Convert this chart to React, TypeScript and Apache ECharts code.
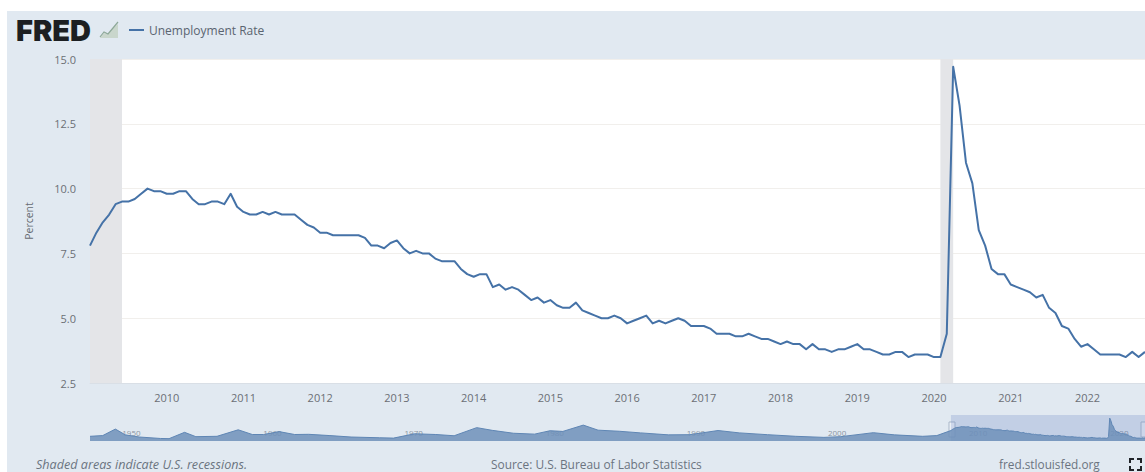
import React, { useEffect, useRef } from "react";
import * as echarts from "echarts";

// Monthly unemployment rate, percent, one list per calendar year from 2009.
const rate2009 = [7.8, 8.3, 8.7, 9.0, 9.4, 9.5, 9.5, 9.6, 9.8, 10.0, 9.9, 9.9];
const rate2010 = [9.8, 9.8, 9.9, 9.9, 9.6, 9.4, 9.4, 9.5, 9.5, 9.4, 9.8, 9.3];
const rate2011 = [9.1, 9.0, 9.0, 9.1, 9.0, 9.1, 9.0, 9.0, 9.0, 8.8, 8.6, 8.5];
const rate2012 = [8.3, 8.3, 8.2, 8.2, 8.2, 8.2, 8.2, 8.1, 7.8, 7.8, 7.7, 7.9];
const rate2013 = [8.0, 7.7, 7.5, 7.6, 7.5, 7.5, 7.3, 7.2, 7.2, 7.2, 6.9, 6.7];
const rate2014 = [6.6, 6.7, 6.7, 6.2, 6.3, 6.1, 6.2, 6.1, 5.9, 5.7, 5.8, 5.6];
const rate2015 = [5.7, 5.5, 5.4, 5.4, 5.6, 5.3, 5.2, 5.1, 5.0, 5.0, 5.1, 5.0];
const rate2016 = [4.8, 4.9, 5.0, 5.1, 4.8, 4.9, 4.8, 4.9, 5.0, 4.9, 4.7, 4.7];
const rate2017 = [4.7, 4.6, 4.4, 4.4, 4.4, 4.3, 4.3, 4.4, 4.3, 4.2, 4.2, 4.1];
const rate2018 = [4.0, 4.1, 4.0, 4.0, 3.8, 4.0, 3.8, 3.8, 3.7, 3.8, 3.8, 3.9];
const rate2019 = [4.0, 3.8, 3.8, 3.7, 3.6, 3.6, 3.7, 3.7, 3.5, 3.6, 3.6, 3.6];
const rate2020 = [3.5, 3.5, 4.4, 14.7, 13.2, 11.0, 10.2, 8.4, 7.8, 6.9, 6.7, 6.7];
const rate2021 = [6.3, 6.2, 6.1, 6.0, 5.8, 5.9, 5.4, 5.2, 4.7, 4.6, 4.2, 3.9];
const rate2022 = [4.0, 3.8, 3.6, 3.6, 3.6, 3.6, 3.5, 3.7, 3.5, 3.7];

const rateByYear = [
  rate2009, rate2010, rate2011, rate2012, rate2013, rate2014, rate2015,
  rate2016, rate2017, rate2018, rate2019, rate2020, rate2021, rate2022,
];

const firstYear = 2009;
const rateTicks = [2.5, 5, 7.5, 10, 12.5, 15];

// Long-run history behind the range selector: decimal year and rate.
const historyYears = [
  1948.0, 1948.9, 1949.8, 1950.5, 1951.5, 1953.0, 1953.6, 1954.7, 1955.5, 1957.0,
  1958.5, 1959.5, 1960.3, 1961.4, 1962.5, 1963.5, 1965.0, 1966.5, 1968.5, 1969.5,
  1971.0, 1972.5, 1973.8, 1975.4, 1976.5, 1978.0, 1979.5, 1980.6, 1981.5, 1982.95,
  1984.0, 1985.5, 1987.0, 1989.0, 1990.5, 1992.5, 1994.0, 1996.0, 1998.0, 2000.0,
  2001.2, 2003.5, 2005.0, 2007.0, 2008.0,
];
const historyRates = [
  4.6, 5.0, 8.6, 5.4, 4.2, 3.4, 3.3, 6.8, 4.4, 4.6,
  8.2, 5.6, 5.6, 7.2, 5.6, 5.7, 5.0, 4.2, 3.8, 3.6,
  6.0, 5.6, 4.9, 9.4, 7.9, 6.3, 5.8, 7.7, 7.3, 10.8,
  8.0, 7.4, 6.5, 5.4, 5.5, 7.8, 6.5, 5.5, 4.6, 4.0,
  4.4, 6.6, 5.4, 4.6, 5.0,
];
const decadeTicks = [1950, 1960, 1970, 1980, 1990, 2000, 2010, 2020];

const seriesName = "Unemployment Rate";
const lineColor = "#4572a7";

const monthlyPoints: [number, number][] = rateByYear.flatMap((values, i) =>
  values.map((v, m) => [firstYear + i + m / 12, v] as [number, number])
);
const historyPoints: [number, number][] = historyYears.map(
  (y, i) => [y, historyRates[i]] as [number, number]
);

const rangeStart = 2009;
const rangeEnd = 2022 + 9 / 12;

// Recession spans inside the visible range, in decimal years.
const recessionSpans = [
  [rangeStart, 2009 + 5 / 12],
  [2020 + 1 / 12, 2020 + 3 / 12],
];

const labelFont = "Open Sans";

export default function App() {
  const ref = useRef<HTMLDivElement>(null);

  useEffect(() => {
    if (!ref.current) return;
    const chart = echarts.init(ref.current, undefined, { renderer: "svg" });
    chart.setOption({
      animation: false,
      backgroundColor: "transparent",
      textStyle: { fontFamily: labelFont },
      legend: {
        left: 124,
        top: 19,
        icon: "rect",
        itemWidth: 15,
        itemHeight: 2,
        itemGap: 0,
        data: [seriesName],
        textStyle: { color: "#5a6470", fontSize: 12, padding: [0, 0, 0, 0] },
      },
      grid: [
        {
          left: 90,
          right: 0,
          top: 59,
          height: 324,
          show: true,
          backgroundColor: "#ffffff",
          borderWidth: 0,
        },
        { left: 90, right: 0, top: 415, height: 26, show: false },
      ],
      xAxis: [
        {
          type: "value",
          gridIndex: 0,
          min: rangeStart,
          max: rangeEnd,
          interval: 1,
          splitLine: { show: false },
          axisTick: { show: false },
          axisLine: { show: true, lineStyle: { color: "#d9dfe6", width: 1 } },
          axisLabel: {
            formatter: (v: number) => (v > rangeStart && Number.isInteger(v) ? String(v) : ""),
            color: "#6b6f75",
            fontSize: 11,
            margin: 9,
            hideOverlap: false,
            showMinLabel: true,
            showMaxLabel: false,
          },
        },
        {
          type: "value",
          gridIndex: 1,
          min: 1948,
          max: rangeEnd,
          splitLine: { show: false },
          axisTick: { show: false },
          axisLine: { show: false },
          axisLabel: {
            inside: true,
            customValues: decadeTicks,
            formatter: (v: number) => String(v),
            color: "#8b95a1",
            fontSize: 8,
            margin: 5,
            align: "left",
            padding: [0, 0, 0, 4],
            hideOverlap: false,
          },
        },
      ],
      yAxis: [
        {
          type: "value",
          gridIndex: 0,
          min: 2.5,
          max: 15,
          interval: 2.5,
          name: "Percent",
          nameLocation: "middle",
          nameGap: 56,
          nameTextStyle: { color: "#666b72", fontSize: 10.5 },
          axisLine: { show: false },
          axisTick: { show: false },
          splitLine: { show: true, lineStyle: { color: "#f1efec", width: 1 } },
          axisLabel: {
            color: "#6b6f75",
            fontSize: 11,
            margin: 14,
            formatter: (v: number) => (rateTicks.includes(v) ? v.toFixed(1) : ""),
          },
        },
        {
          type: "value",
          gridIndex: 1,
          min: 2,
          max: 16.4,
          show: false,
          splitLine: { show: false },
        },
      ],
      series: [
        {
          name: seriesName,
          type: "line",
          xAxisIndex: 0,
          yAxisIndex: 0,
          data: monthlyPoints,
          showSymbol: false,
          symbol: "none",
          lineStyle: { color: lineColor, width: 2, join: "round" },
          itemStyle: { color: lineColor },
          silent: true,
          markArea: {
            silent: true,
            itemStyle: { color: "#e4e5e8" },
            data: recessionSpans.map(([a, b]) => [{ xAxis: a }, { xAxis: b }]),
          },
        },
        {
          name: "Range selector",
          type: "line",
          xAxisIndex: 1,
          yAxisIndex: 1,
          data: [...historyPoints, ...monthlyPoints],
          showSymbol: false,
          symbol: "none",
          lineStyle: { color: "#5f86b4", width: 1 },
          itemStyle: { color: lineColor },
          areaStyle: { color: "#6f90ba", opacity: 0.85, origin: "start" },
          silent: true,
          markArea: {
            silent: true,
            itemStyle: { color: "rgba(102,133,194,0.25)" },
            data: [[{ xAxis: rangeStart }, { xAxis: rangeEnd }]],
          },
        },
      ],
      graphic: [
        {
          type: "text",
          x: 16,
          y: 16,
          style: {
            text: "FRED",
            fill: "#1c1f22",
            font: '900 29px "Inter"',
          },
        },
        {
          type: "polygon",
          shape: { points: [[100, 38], [104, 33], [108, 34], [113, 28], [118, 24], [118, 38]] },
          style: { fill: "#c9d6cc" },
        },
        {
          type: "polyline",
          shape: { points: [[100, 37], [104, 32], [108, 34], [113, 28], [118, 22]] },
          style: { stroke: "#8da898", lineWidth: 1.2, fill: "none" },
        },
        { type: "rect", shape: { x: 949, y: 422, width: 6, height: 15 }, style: { fill: "#eef2f7", stroke: "#a9b7c9", lineWidth: 1 } },
        { type: "rect", shape: { x: 1141, y: 422, width: 6, height: 15 }, style: { fill: "#eef2f7", stroke: "#a9b7c9", lineWidth: 1 } },
        {
          type: "text",
          x: 36,
          y: 458,
          style: { text: "Shaded areas indicate U.S. recessions.", fill: "#6b7480", font: `italic 12.6px "${labelFont}"` },
        },
        {
          type: "text",
          x: 491,
          y: 458,
          style: { text: "Source: U.S. Bureau of Labor Statistics", fill: "#6b7480", font: `11.9px "${labelFont}"` },
        },
        {
          type: "text",
          x: 999,
          y: 458,
          style: { text: "fred.stlouisfed.org", fill: "#6b7480", font: `11.8px "${labelFont}"` },
        },
        // Full-screen toggle: four corner brackets.
        ...[
          [[1130, 463], [1130, 459], [1134, 459]],
          [[1137, 459], [1141, 459], [1141, 463]],
          [[1130, 466], [1130, 470], [1134, 470]],
          [[1137, 470], [1141, 470], [1141, 466]],
        ].map((points) => ({
          type: "polyline",
          shape: { points },
          style: { stroke: "#1f2328", lineWidth: 2, fill: "none" },
        })),
      ],
    });
    return () => chart.dispose();
  }, []);

  return (
    <div style={{ position: "absolute", left: 0, top: 0, width: 1145, height: 472, background: "#ffffff", overflow: "hidden" }}>
      <div style={{ position: "absolute", left: 7, top: 11, right: 0, bottom: 0, background: "#e1e9f1" }} />
      <div ref={ref} style={{ position: "absolute", left: 0, top: 0, width: 1145, height: 472 }} />
    </div>
  );
}
